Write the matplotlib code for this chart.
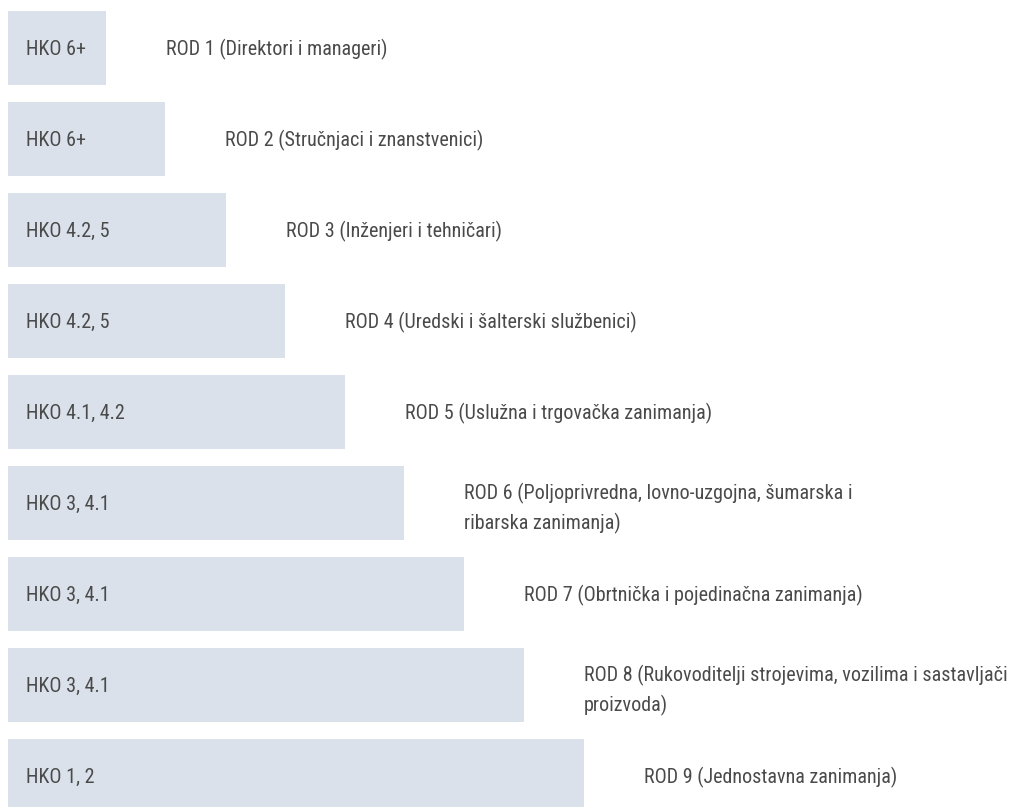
import matplotlib.pyplot as plt

plt.rcParams['font.family'] = ['Roboto Condensed', 'Liberation Sans Narrow', 'DejaVu Sans']

levels = ['HKO 6+', 'HKO 6+', 'HKO 4.2, 5', 'HKO 4.2, 5', 'HKO 4.1, 4.2',
          'HKO 3, 4.1', 'HKO 3, 4.1', 'HKO 3, 4.1', 'HKO 1, 2']
groups = ['ROD 1 (Direktori i manageri)',
          'ROD 2 (Stručnjaci i znanstvenici)',
          'ROD 3 (Inženjeri i tehničari)',
          'ROD 4 (Uredski i šalterski službenici)',
          'ROD 5 (Uslužna i trgovačka zanimanja)',
          'ROD 6 (Poljoprivredna, lovno-uzgojna, šumarska i\nribarska zanimanja)',
          'ROD 7 (Obrtnička i pojedinačna zanimanja)',
          'ROD 8 (Rukovoditelji strojevima, vozilima i sastavljači\nproizvoda)',
          'ROD 9 (Jednostavna zanimanja)']
lengths = [1.63, 2.62, 3.63, 4.62, 5.62, 6.6, 7.6, 8.6, 9.6]

bar_color = '#dae1ea'
text_color = '#4a4a4a'

fig = plt.figure(figsize=(10.09, 8.07), dpi=100)
ax = fig.add_axes([0, 0, 1, 1])

ypos = list(range(len(lengths)))
ax.barh(ypos, lengths, height=0.81, color=bar_color, left=0)

for y, lvl, grp, w in zip(ypos, levels, groups, lengths):
    ax.text(0.3, y + 0.015, lvl, va='center', ha='left', fontsize=14.5, color=text_color)
    dy = 0.06 if '\n' in grp else 0.02
    ax.text(w + 1.0, y + dy, grp, va='center', ha='left', fontsize=14.5,
            color=text_color, linespacing=1.5)

ax.set_xlim(-8 / 60, 1001 / 60)
ax.set_ylim((807 - 48) / 91, -48 / 91)
ax.axis('off')

fig.savefig('out.png', dpi=100, facecolor='white')
